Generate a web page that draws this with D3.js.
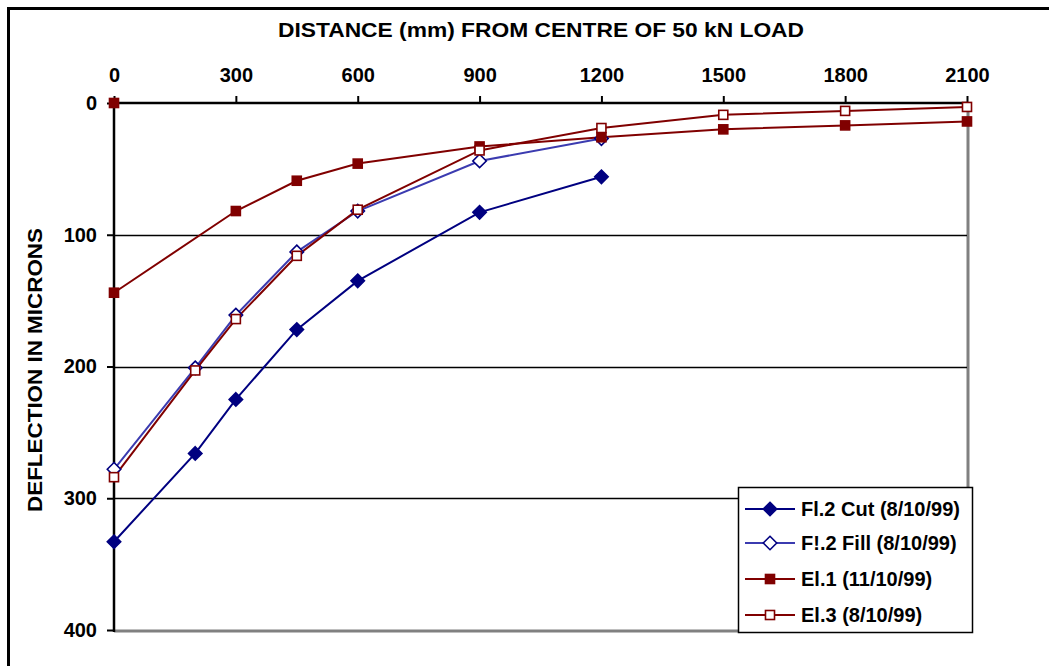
<!DOCTYPE html>
<html>
<head>
<meta charset="utf-8">
<script src="https://cdn.jsdelivr.net/npm/d3@7"></script>
<style>
  html, body { margin: 0; padding: 0; background: #fff; }
  svg { display: block; font-family: Arial, "Liberation Sans", sans-serif; font-weight: bold; }
</style>
</head>
<body>
<svg id="chart" width="1049" height="666"></svg>
<script>
// Deflection bowl measurements: distance from load centre (mm) vs deflection (microns)
const xTicks = [0, 300, 600, 900, 1200, 1500, 1800, 2100];
const yTicks = [0, 100, 200, 300, 400];

const cutDist = [0, 200, 300, 450, 600, 900, 1200];
const cutDefl = [333, 266, 225, 172, 135, 83, 56];

const fillDist = [0, 200, 300, 450, 600, 900, 1200];
const fillDefl = [278, 201, 161, 113, 82, 44, 27];

const el1Dist = [0, 0, 300, 450, 600, 900, 1200, 1500, 1800, 2100];
const el1Defl = [0, 144, 82, 59, 46, 33, 26, 20, 17, 14];

const el3Dist = [0, 200, 300, 450, 600, 900, 1200, 1500, 1800, 2100];
const el3Defl = [284, 203, 164, 116, 81, 36, 19, 9, 6, 3];

const seriesNames = ["Fl.2 Cut (8/10/99)", "F!.2 Fill (8/10/99)", "El.1 (11/10/99)", "El.3 (8/10/99)"];

const series = [
  { name: seriesNames[0], xs: cutDist, ys: cutDefl, line: "#000080", stroke: "#000080", fill: "#000080", shape: "diamond" },
  { name: seriesNames[1], xs: fillDist, ys: fillDefl, line: "#3b3bb0", stroke: "#000080", fill: "#ffffff", shape: "diamond" },
  { name: seriesNames[2], xs: el1Dist, ys: el1Defl, line: "#800000", stroke: "#800000", fill: "#800000", shape: "square" },
  { name: seriesNames[3], xs: el3Dist, ys: el3Defl, line: "#800000", stroke: "#800000", fill: "#ffffff", shape: "square" }
];

const svg = d3.select("#chart");
const plot = { left: 114, right: 968, top: 103, bottom: 630 };

const x = d3.scaleLinear().domain([0, 2100]).range([plot.left, plot.right - 1]);
const y = d3.scaleLinear().domain([0, 400]).range([plot.top, plot.bottom]);

// chart frame
svg.append("rect").attr("x", 8.5).attr("y", 8.5).attr("width", 1060).attr("height", 680)
  .attr("fill", "#fff").attr("stroke", "#000").attr("stroke-width", 3);

// plot area border (right and bottom in grey)
svg.append("path")
  .attr("d", `M${plot.right},${plot.top}V${plot.bottom + 1}H${plot.left}`)
  .attr("fill", "none").attr("stroke", "#808080").attr("stroke-width", 3);

// horizontal gridlines
svg.append("g").selectAll("line").data(yTicks.filter(d => d > 0 && d < 400)).join("line")
  .attr("x1", plot.left).attr("x2", plot.right - 1)
  .attr("y1", d => Math.round(y(d)) + 0.5).attr("y2", d => Math.round(y(d)) + 0.5)
  .attr("stroke", "#000").attr("stroke-width", 1.5);

// series lines and markers
const lineGen = d3.line().x(d => x(d[0])).y(d => y(d[1]));

function marker(g, shape, stroke, fill, size) {
  if (shape === "diamond") {
    g.append("path").attr("d", d3.symbol(d3.symbolDiamond2, size * size * 0.95)())
      .attr("fill", fill).attr("stroke", stroke).attr("stroke-width", 1.6);
  } else {
    const s = size * 0.82;
    g.append("rect").attr("x", -s / 2).attr("y", -s / 2).attr("width", s).attr("height", s)
      .attr("fill", fill).attr("stroke", stroke).attr("stroke-width", 1.6);
  }
}

const seriesG = svg.append("g");
series.forEach(s => {
  const pts = s.xs.map((d, i) => [d, s.ys[i]]);
  seriesG.append("path").datum(pts).attr("d", lineGen)
    .attr("fill", "none").attr("stroke", s.line).attr("stroke-width", 2);
});

// axes drawn over the series lines
const xAxis = d3.axisTop(x).tickValues(xTicks).tickSize(7).tickPadding(14).tickFormat(d3.format("d"));
const xg = svg.append("g").attr("transform", `translate(0,${plot.top})`).call(xAxis);
xg.select(".domain").attr("stroke", "#000").attr("stroke-width", 2.5).attr("d", `M${plot.left},0H${plot.right}`);
xg.selectAll(".tick line").attr("stroke", "#000").attr("stroke-width", 2);
xg.selectAll(".tick text").attr("font-size", 20).attr("font-weight", "bold").attr("fill", "#000")
  .attr("font-family", "Arial, 'Liberation Sans', sans-serif");

const yAxis = d3.axisLeft(y).tickValues(yTicks).tickSize(7).tickPadding(10).tickFormat(d3.format("d"));
const yg = svg.append("g").attr("transform", `translate(${plot.left},0)`).call(yAxis);
yg.select(".domain").attr("stroke", "#000").attr("stroke-width", 2.5).attr("d", `M0,${plot.top}V${plot.bottom + 2}`);
yg.selectAll(".tick line").attr("stroke", "#000").attr("stroke-width", 2);
yg.selectAll(".tick text").attr("font-size", 20).attr("font-weight", "bold").attr("fill", "#000")
  .attr("font-family", "Arial, 'Liberation Sans', sans-serif");

// markers on top
series.forEach(s => {
  const size = s.shape === "diamond" ? 11 : 11;
  s.xs.forEach((d, i) => {
    const g = svg.append("g").attr("transform", `translate(${x(d)},${y(s.ys[i])})`);
    marker(g, s.shape, s.stroke, s.fill, size);
  });
});

// titles
svg.append("text").attr("x", 541).attr("y", 37).attr("text-anchor", "middle")
  .attr("font-size", 21).attr("textLength", 526).attr("lengthAdjust", "spacingAndGlyphs")
  .text("DISTANCE (mm) FROM CENTRE OF 50 kN LOAD");

svg.append("text").attr("transform", "translate(42,370) rotate(-90)").attr("text-anchor", "middle")
  .attr("font-size", 21).attr("textLength", 284).attr("lengthAdjust", "spacingAndGlyphs")
  .text("DEFLECTION IN MICRONS");

// legend
const leg = svg.append("g").attr("transform", "translate(738,487)");
leg.append("rect").attr("x", 0.5).attr("y", 0.5).attr("width", 234).attr("height", 145)
  .attr("fill", "#fff").attr("stroke", "#000").attr("stroke-width", 1.5);
const rowY = [22, 56, 92, 128];
series.forEach((s, i) => {
  const r = leg.append("g").attr("transform", `translate(0,${rowY[i]})`);
  r.append("line").attr("x1", 7).attr("x2", 57).attr("y1", 0).attr("y2", 0)
    .attr("stroke", s.line).attr("stroke-width", 2);
  const m = r.append("g").attr("transform", "translate(32,0)");
  marker(m, s.shape, s.stroke, s.fill, 11);
  r.append("text").attr("x", 63).attr("y", 7).attr("font-size", 20).text(s.name);
});
</script>
</body>
</html>
